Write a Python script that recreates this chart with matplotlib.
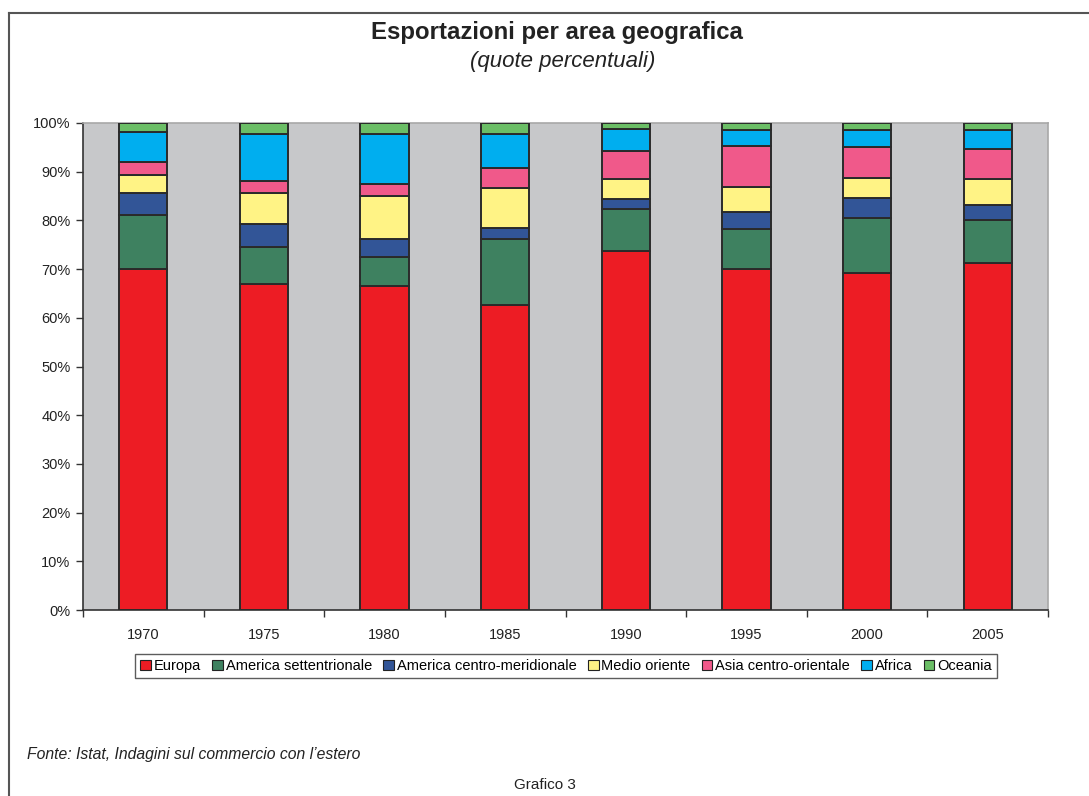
import matplotlib
matplotlib.use("Agg")
import matplotlib.pyplot as plt
import numpy as np
from matplotlib.lines import Line2D

plt.rcParams['font.family'] = ['Liberation Sans', 'DejaVu Sans']

years = ["1970", "1975", "1980", "1985", "1990", "1995", "2000", "2005"]
series_names = ["Europa", "America settentrionale", "America centro-meridionale",
                "Medio oriente", "Asia centro-orientale", "Africa", "Oceania"]
europa       = [70.0, 66.9, 66.5, 62.6, 73.7, 70.1, 69.3, 71.2]
am_nord      = [11.2,  7.6,  5.9, 13.5,  8.6,  8.1, 11.1,  8.9]
am_centro    = [ 4.5,  4.8,  3.8,  2.4,  2.1,  3.6,  4.1,  3.1]
medio        = [ 3.6,  6.4,  8.9,  8.2,  4.0,  5.1,  4.3,  5.2]
asia         = [ 2.6,  2.3,  2.4,  4.1,  5.9,  8.4,  6.3,  6.2]
africa       = [ 6.2,  9.7, 10.3,  7.0,  4.4,  3.3,  3.5,  3.9]
oceania      = [ 1.9,  2.3,  2.2,  2.2,  1.3,  1.4,  1.4,  1.5]
colors = ["#ED1C24", "#3E8160", "#325597", "#FFF385", "#F0598A", "#00AEEF", "#6BBE66"]

series = [europa, am_nord, am_centro, medio, asia, africa, oceania]

W, H = 1089, 796
fig = plt.figure(figsize=(W/100, H/100), dpi=100)
fig.patch.set_facecolor("white")

# outer frame (top and left only visible)
fig.add_artist(Line2D([8.5/W, 8.5/W], [1 - 13/H, 0], transform=fig.transFigure,
                      color="#555555", lw=1.5))
fig.add_artist(Line2D([8.5/W, 1], [1 - 13/H, 1 - 13/H], transform=fig.transFigure,
                      color="#555555", lw=1.5))

x0, x1, ytop, ybot = 83, 1048, 123, 610
ax = fig.add_axes([x0/W, 1 - ybot/H, (x1 - x0)/W, (ybot - ytop)/H])
ax.set_facecolor("#C7C8CA")

x = np.arange(len(years))
bottom = np.zeros(len(years))
for name, vals, c in zip(series_names, series, colors):
    v = np.array(vals)
    ax.bar(x, v, 0.4, bottom=bottom, color=c, edgecolor="#2a2a2a", linewidth=1.4,
           label=name, zorder=3)
    bottom += v

ax.set_xlim(-0.5, len(years) - 0.5)
ax.set_ylim(0, 100)
ax.set_yticks(np.arange(0, 101, 10))
ax.set_yticklabels([f"{v}%" for v in range(0, 101, 10)], fontsize=10.5, color="#222222")
ax.set_xticks(x)
ax.set_xticklabels(years, fontsize=10.5, color="#222222")
ax.set_xticks(np.arange(-0.5, len(years)), minor=True)
ax.tick_params(axis='x', which='major', length=0, pad=13)
ax.tick_params(axis='x', which='minor', length=5, width=1, color="#333333", direction='out')
ax.tick_params(axis='y', length=5, width=1, color="#333333", direction='out', pad=4)

for s in ["left", "bottom"]:
    ax.spines[s].set_color("#333333")
    ax.spines[s].set_linewidth(1.2)
for s in ["top", "right"]:
    ax.spines[s].set_color("#A8A8A8")
    ax.spines[s].set_linewidth(1.2)

handles, labels = ax.get_legend_handles_labels()
leg = fig.legend(handles, labels, loc="center", bbox_to_anchor=(566/W, 1 - 666/H),
                 ncol=7, fontsize=10.5, frameon=True, fancybox=False,
                 handlelength=0.75, handleheight=0.75, handletextpad=0.2,
                 columnspacing=0.75, borderpad=0.35, edgecolor="#333333")
leg.get_frame().set_linewidth(1.0)
for p in leg.get_patches():
    p.set_edgecolor("#222222")
    p.set_linewidth(0.8)

fig.text(557/W, 1 - 33/H, "Esportazioni per area geografica", ha="center", va="center",
         fontsize=17.3, fontweight="bold", color="#222222")
fig.text(563/W, 1 - 62/H, "(quote percentuali)", ha="center", va="center",
         fontsize=16, fontstyle="italic", color="#222222")
fig.text(27/W, 1 - 754/H, "Fonte: Istat, Indagini sul commercio con l\u2019estero",
         ha="left", va="center", fontsize=11.3, fontstyle="italic", color="#222222")
fig.text(545/W, 1 - 785/H, "Grafico 3", ha="center", va="center",
         fontsize=11, color="#222222")

fig.savefig("out.png", dpi=100)
